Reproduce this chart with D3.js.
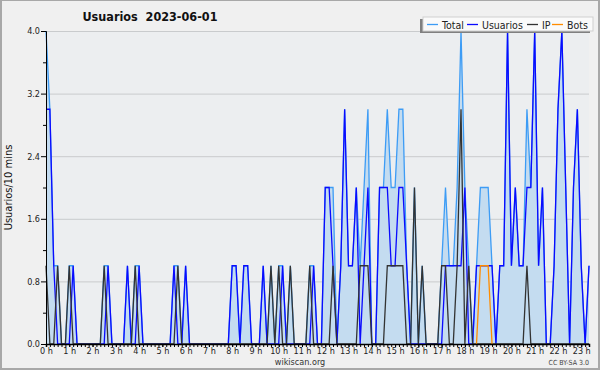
<!DOCTYPE html>
<html>
<head>
<meta charset="utf-8">
<script src="https://cdn.jsdelivr.net/npm/d3@7"></script>
<style>
  body { margin: 0; background: #fff; }
  svg { display: block; font-family: "DejaVu Sans Condensed", "DejaVu Sans", sans-serif; }
</style>
</head>
<body>
<div id="vis"></div>
<script>
// Constants
const FRAME_WIDTH = 600;
const FRAME_HEIGHT = 370;
const MARGINS = { left: 46, right: 11, top: 31, bottom: 26 };

// one value every 10 minutes, 0:00 -> 23:20
const usuarios = [
    3,3,1,0,0,0,0,1,0,0,0,0,
    0,0,0,0,1,0,0,0,0,1,0,0,
    1,0,0,0,0,0,0,0,0,1,0,0,
    1,0,0,0,0,0,0,0,0,0,0,0,
    1,1,0,1,1,0,0,0,1,0,0,0,
    0,1,0,0,0,0,0,0,0,1,0,0,
    2,2,1,0,1,3,1,1,2,0,1,2,
    0,0,2,2,2,1,1,2,2,1,0,0,
    0,0,0,0,0,0,0,1,1,1,1,1,
    2,0,0,1,1,1,1,1,0,1,1,4,
    1,2,1,1,2,2,4,1,2,0,0,1,
    3,4,2,0,2,3,1,0,1
];
const ip = [
    1,0,0,1,0,0,1,0,0,0,0,0,
    0,0,0,1,0,0,0,0,0,0,0,1,
    0,0,0,0,0,0,0,0,0,0,1,0,
    0,0,0,0,0,0,0,0,0,0,0,0,
    0,0,0,0,0,0,0,0,0,0,1,0,
    1,0,0,1,0,0,0,0,1,0,0,0,
    0,0,1,0,0,0,0,0,0,1,1,1,
    0,0,0,0,1,1,1,1,1,0,0,2,
    0,1,0,0,0,0,1,1,0,0,1,3,
    0,1,0,0,0,0,0,0,0,0,0,0,
    0,0,0,0,1,0,0,0,0,0,0,0,
    0,0,0,0,0,0,0,0,0
];
const bots = [
    0,0,0,0,0,0,0,0,0,0,0,0,
    0,0,0,0,0,0,0,0,0,0,0,0,
    0,0,0,0,0,0,0,0,0,0,0,0,
    0,0,0,0,0,0,0,0,0,0,0,0,
    0,0,0,0,0,0,0,0,0,0,0,0,
    0,0,0,0,0,0,0,0,0,0,0,0,
    0,0,0,0,0,0,0,0,0,0,0,0,
    0,0,0,0,0,0,0,0,0,0,0,0,
    0,0,0,0,0,0,0,0,0,0,0,0,
    0,0,0,0,1,1,1,0,0,0,0,0,
    0,0,0,0,0,0,0,0,0,0,0,0,
    0,0,0,0,0,0,0,0,0
];
const total = [
    4,3,1,1,0,0,1,1,0,0,0,0,
    0,0,0,1,1,0,0,0,0,1,0,1,
    1,0,0,0,0,0,0,0,0,1,1,0,
    1,0,0,0,0,0,0,0,0,0,0,0,
    1,1,0,1,1,0,0,0,1,0,1,0,
    1,1,0,1,0,0,0,0,1,1,0,0,
    2,2,2,0,1,3,1,1,2,1,2,3,
    0,0,2,2,3,2,2,3,3,1,0,2,
    0,1,0,0,0,0,1,2,1,1,2,4,
    2,1,0,1,2,2,2,1,0,1,1,4,
    1,2,1,1,3,2,4,1,2,0,0,1,
    3,4,2,0,2,3,1,0,1
];

const yMajorTicks = [0, 0.8, 1.6, 2.4, 3.2, 4.0];
const yMinorTicks = [0.4, 1.2, 2.0, 2.8, 3.6];
const hourTicks = d3.range(0, 24);

const series = [
    { name: "Total", values: total, color: "#3d9cf5" },
    { name: "Usuarios", values: usuarios, color: "#0a0aff" },
    { name: "IP", values: ip, color: "#333333" },
    { name: "Bots", values: bots, color: "#ff8c00" }
];
// legend line x for each entry
const LEGEND_X = [427, 467, 527, 552];

const VIS_WIDTH = FRAME_WIDTH - MARGINS.left - MARGINS.right;
const VIS_HEIGHT = FRAME_HEIGHT - MARGINS.top - MARGINS.bottom;

const FRAME = d3.select("#vis")
    .append("svg")
    .attr("width", FRAME_WIDTH)
    .attr("height", FRAME_HEIGHT);

// background + border
FRAME.append("rect")
    .attr("x", 1).attr("y", 0)
    .attr("width", FRAME_WIDTH - 2).attr("height", FRAME_HEIGHT - 1)
    .attr("fill", "#f0f0f0")
    .attr("stroke", "#a8a8a8")
    .attr("stroke-width", 2);

FRAME.append("rect")
    .attr("x", MARGINS.left).attr("y", MARGINS.top)
    .attr("width", VIS_WIDTH).attr("height", VIS_HEIGHT)
    .attr("fill", "#eceef0");

const X_SCALE = d3.scaleLinear()
    .domain([0, total.length - 1])
    .range([MARGINS.left, MARGINS.left + VIS_WIDTH]);

const Y_SCALE = d3.scaleLinear()
    .domain([0, 4])
    .range([MARGINS.top + VIS_HEIGHT, MARGINS.top]);

// gridlines
FRAME.append("g")
    .attr("transform", "translate(" + MARGINS.left + ",0)")
    .call(d3.axisRight(Y_SCALE).tickValues(yMajorTicks.slice(1)).tickSize(VIS_WIDTH).tickFormat(""))
    .call(g => g.select(".domain").remove())
    .call(g => g.selectAll("line").attr("stroke", "#c9cbcd"));

// area under total
const area = d3.area()
    .x((d, i) => X_SCALE(i))
    .y0(Y_SCALE(0))
    .y1(d => Y_SCALE(d));

FRAME.append("path")
    .datum(total)
    .attr("d", area)
    .attr("fill", "#c4dcf0");

// lines
const line = d3.line()
    .x((d, i) => X_SCALE(i))
    .y(d => Y_SCALE(d));

series.forEach(s => {
    if (s.name === "Bots") {
        // bots only drawn around its non-zero values
        FRAME.append("path")
            .datum(s.values.map((v, i) => ({ v, i })))
            .attr("d", d3.line()
                .defined((d) => d.v > 0 || (s.values[d.i - 1] > 0) || (s.values[d.i + 1] > 0))
                .x(d => X_SCALE(d.i)).y(d => Y_SCALE(d.v)))
            .attr("fill", "none")
            .attr("stroke", s.color)
            .attr("stroke-width", 1.3);
    } else {
        FRAME.append("path")
            .datum(s.values)
            .attr("d", line)
            .attr("fill", "none")
            .attr("stroke", s.color)
            .attr("stroke-width", 1.3);
    }
});

// y axis
FRAME.append("g")
    .attr("transform", "translate(" + MARGINS.left + ",0)")
    .call(d3.axisLeft(Y_SCALE).tickValues(yMajorTicks).tickSize(5).tickPadding(1).tickFormat(d3.format(".1f")))
    .attr("font-size", "9px")
    .attr("font-family", null)
    .call(g => g.selectAll("text").attr("fill", "#222"));
FRAME.append("g")
    .attr("transform", "translate(" + MARGINS.left + ",0)")
    .call(d3.axisLeft(Y_SCALE).tickValues(yMinorTicks).tickSize(3).tickFormat(""))
    .call(g => g.select(".domain").remove());

// x axis
FRAME.append("g")
    .attr("transform", "translate(0," + (MARGINS.top + VIS_HEIGHT) + ")")
    .call(d3.axisBottom(X_SCALE).tickValues(d3.range(0, total.length)).tickSize(3).tickFormat(""))
    .call(g => g.select(".domain").attr("stroke-width", 1.5));
FRAME.append("g")
    .attr("transform", "translate(0," + (MARGINS.top + VIS_HEIGHT) + ")")
    .call(d3.axisBottom(X_SCALE).tickValues(hourTicks.map(h => h * 6)).tickSize(3).tickPadding(1)
        .tickFormat(d => (d / 6) + " h"))
    .attr("font-size", "9px")
    .attr("font-family", null)
    .call(g => g.select(".domain").remove())
    .call(g => g.selectAll("text").attr("fill", "#222"));

// titles
FRAME.append("text")
    .attr("x", 150).attr("y", 21)
    .attr("text-anchor", "middle")
    .attr("font-size", "12.5px")
    .attr("font-weight", "bold")
    .attr("fill", "#111")
    .style("white-space", "pre")
    .text("Usuarios  2023-06-01");

FRAME.append("text")
    .attr("transform", "translate(12," + (MARGINS.top + VIS_HEIGHT / 2) + ") rotate(-90)")
    .attr("text-anchor", "middle")
    .attr("font-size", "11px")
    .attr("fill", "#111")
    .text("Usuarios/10 mins");

FRAME.append("text")
    .attr("x", 300).attr("y", 365)
    .attr("text-anchor", "middle")
    .attr("font-size", "9px")
    .attr("fill", "#333")
    .text("wikiscan.org");

FRAME.append("text")
    .attr("x", 589).attr("y", 365)
    .attr("text-anchor", "end")
    .attr("font-size", "7px")
    .attr("fill", "#444")
    .text("CC BY-SA 3.0");

// legend
const legend = FRAME.append("g");
legend.append("rect")
    .attr("x", 420).attr("y", 19).attr("width", 170).attr("height", 14)
    .attr("fill", "#808080");
legend.append("rect")
    .attr("x", 423).attr("y", 17).attr("width", 170).attr("height", 14)
    .attr("fill", "#fafafa")
    .attr("stroke", "#cfcfcf");

series.forEach((s, i) => {
    const lx = LEGEND_X[i];
    legend.append("line")
        .attr("x1", lx).attr("x2", lx + 11)
        .attr("y1", 24.5).attr("y2", 24.5)
        .attr("stroke", s.color)
        .attr("stroke-width", 1.3);
    legend.append("text")
        .attr("x", lx + 15).attr("y", 28.5)
        .attr("font-size", "10.5px")
        .attr("fill", "#222")
        .text(s.name);
});
</script>
</body>
</html>
